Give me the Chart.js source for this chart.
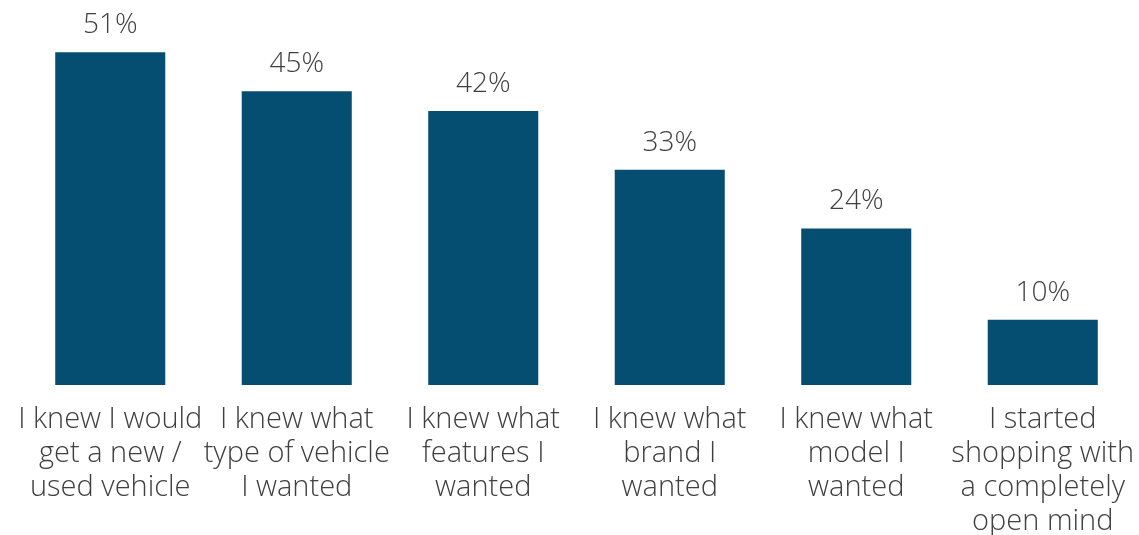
<!DOCTYPE html>
<html>
<head>
<meta charset="utf-8">
<script src="https://cdn.jsdelivr.net/npm/chart.js@4/dist/chart.umd.min.js"></script>
<style>
  html, body { margin: 0; padding: 0; background: #ffffff; }
  #wrap { width: 1139px; height: 535px; position: relative; }
</style>
</head>
<body>
<div id="wrap"><canvas id="c" width="1139" height="535"></canvas></div>
<script>
// Survey answers: how shoppers started their vehicle search
const categories = [
  ["I knew I would", "get a new /", "used vehicle"],
  ["I knew what", "type of vehicle", "I wanted"],
  ["I knew what", "features I", "wanted"],
  ["I knew what", "brand I", "wanted"],
  ["I knew what", "model I", "wanted"],
  ["I started", "shopping with", "a completely", "open mind"]
];
const shares = [51, 45, 42, 33, 24, 10];

const textColor = "#404040";
const barColor = "#054E72";
const fontFamily = "'Open Sans', Lato, sans-serif";

// Writes each bar's percentage just above it
const valueLabels = {
  id: "valueLabels",
  afterDatasetsDraw(chart) {
    const ctx = chart.ctx;
    const meta = chart.getDatasetMeta(0);
    ctx.save();
    ctx.font = "300 28px " + fontFamily;
    ctx.fillStyle = textColor;
    ctx.textAlign = "center";
    ctx.textBaseline = "alphabetic";
    meta.data.forEach((bar, i) => {
      ctx.fillText(shares[i] + "%", bar.x, bar.y - 19);
    });
    ctx.restore();
  }
};

new Chart(document.getElementById("c"), {
  type: "bar",
  data: {
    labels: categories,
    datasets: [{
      data: shares,
      backgroundColor: barColor,
      borderWidth: 0,
      categoryPercentage: 0.59,
      barPercentage: 1.0
    }]
  },
  options: {
    responsive: false,
    animation: false,
    layout: { padding: { left: 17, right: 3, top: 0, bottom: 0 } },
    plugins: {
      legend: { display: false },
      tooltip: { enabled: false }
    },
    scales: {
      y: {
        display: false,
        min: 0,
        max: 59
      },
      x: {
        afterFit(scale) {
          // fixed band for the wrapped labels; edge labels may overhang freely
          scale.height = 150;
          scale.paddingLeft = 0;
          scale.paddingRight = 0;
        },
        grid: { display: false, drawTicks: false },
        border: { display: false },
        ticks: {
          color: textColor,
          font: { family: fontFamily, size: 29, weight: 300, lineHeight: "34px" },
          padding: 18,
          maxRotation: 0,
          autoSkip: false
        }
      }
    }
  },
  plugins: [valueLabels]
});
</script>
</body>
</html>
